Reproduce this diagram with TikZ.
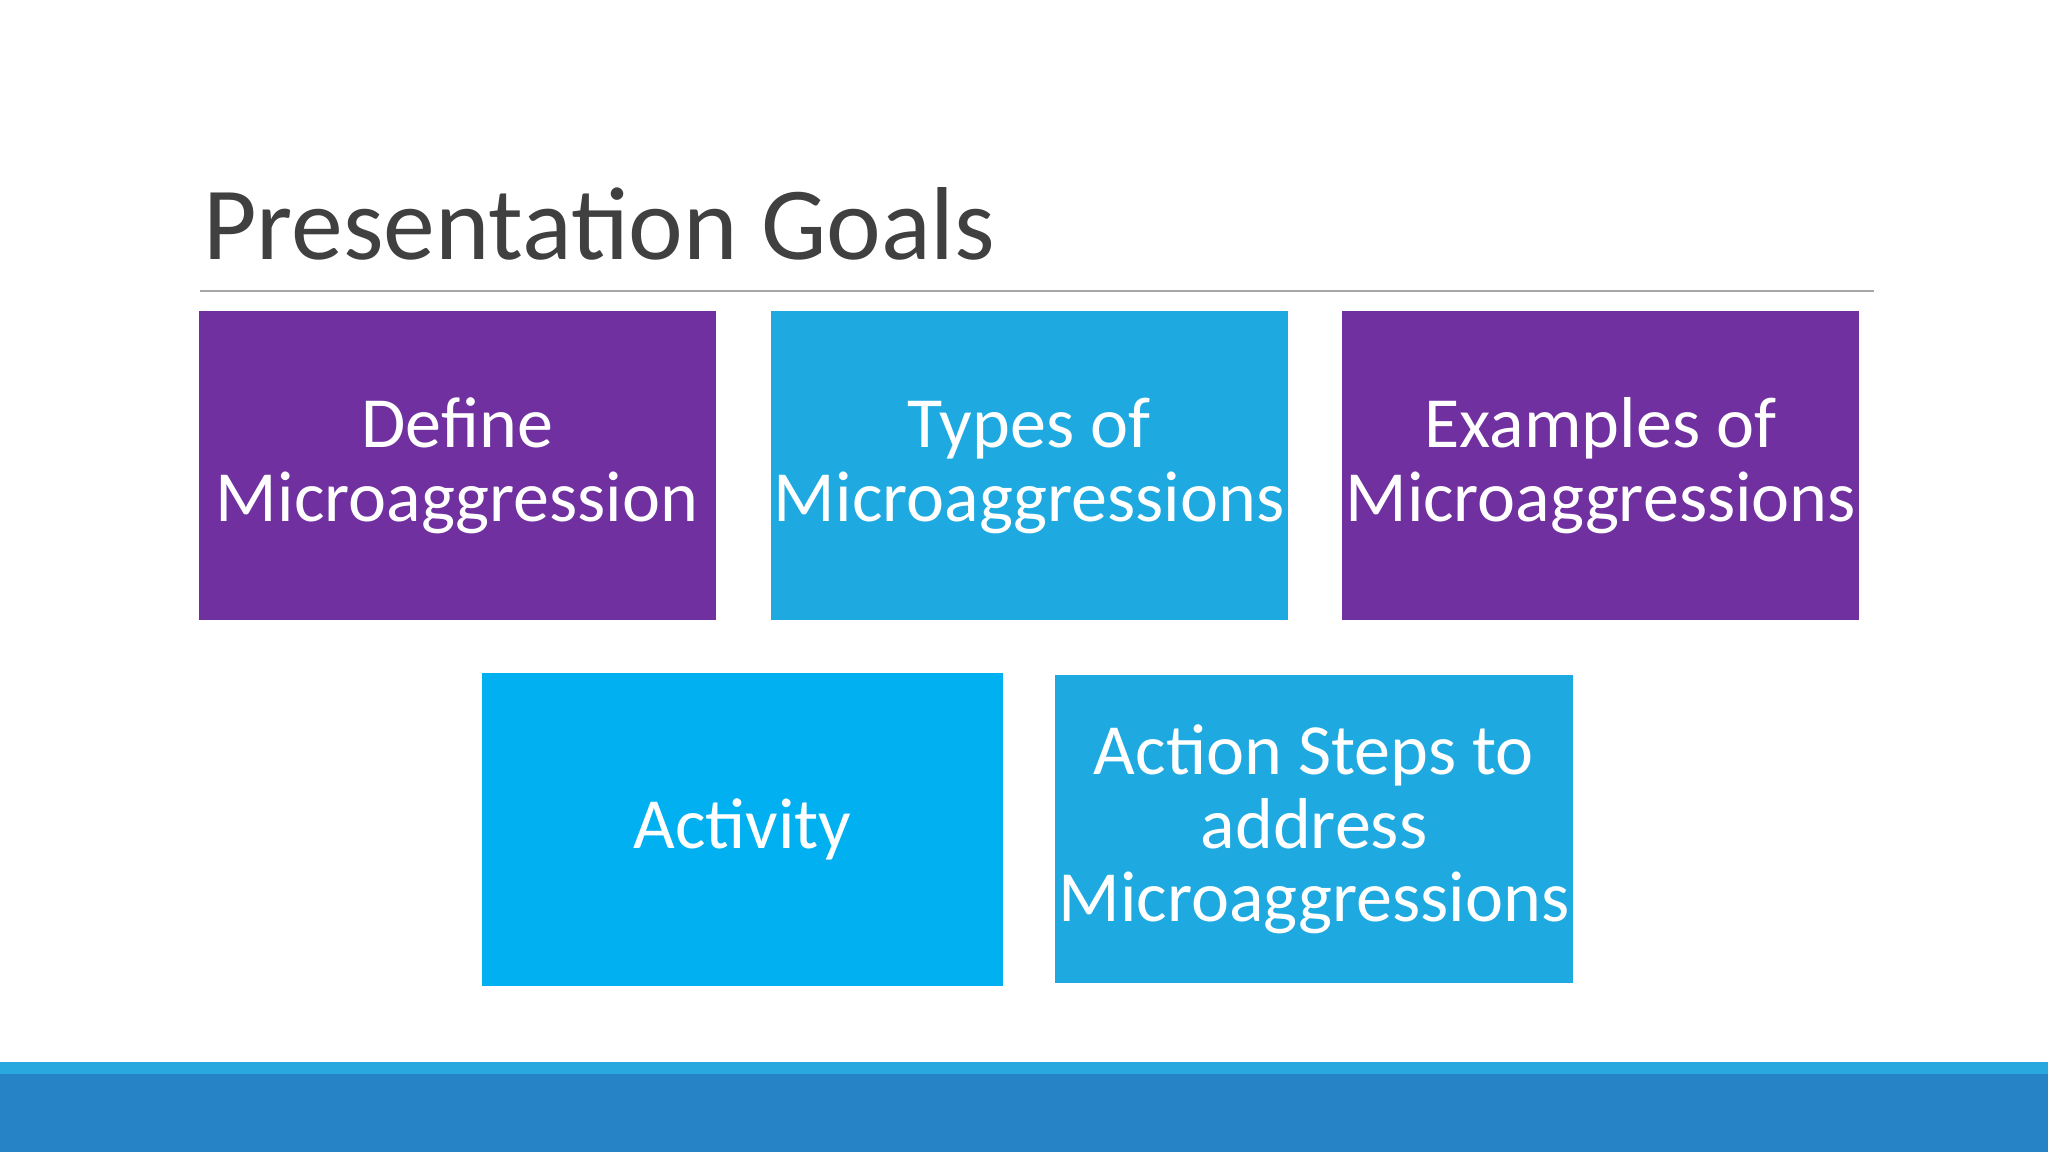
\documentclass[tikz,border=0pt]{standalone}
\usepackage{fontspec}
\setmainfont{Carlito}
\definecolor{goalpurple}{HTML}{7030A0}
\definecolor{goalcyan}{HTML}{1EAAE1}
\definecolor{goalsky}{HTML}{00B0F0}
\definecolor{bandlight}{HTML}{29A8E0}
\definecolor{banddark}{HTML}{2683C6}
\definecolor{titlegray}{HTML}{404040}
\tikzset{
  goalbox/.style={inner sep=0pt, align=center, text=white,
    font=\fontsize{20.5pt}{21pt}\selectfont},
}
\begin{document}
\begin{tikzpicture}[x=0.013061cm,y=-0.013061cm]
  % Background and bottom band
  \fill[white] (0,0) rectangle (1568,882);
  \useasboundingbox (0,0) rectangle (1568,882);
  \fill[bandlight] (0,813) rectangle (1568,822);
  \fill[banddark] (0,822) rectangle (1568,882);
  % Title
  \node (title) [anchor=base west, inner sep=0pt, text=titlegray,
    font=\fontsize{29.5pt}{30pt}\selectfont] at (155,199) {Presentation Goals};
  \coordinate (ruleL) at (153,223);
  \coordinate (ruleR) at (1435,223);
  \draw[gray!70, line width=0.6pt] (ruleL) -- (ruleR);
  % Goal boxes
  \node (define) [goalbox, fill=goalpurple, minimum width=5.172cm, minimum height=3.095cm]
    at (350,356.5) {Define\\Microaggression};
  \node (types) [goalbox, fill=goalcyan, minimum width=5.172cm, minimum height=3.095cm]
    at (788,356.5) {Types of\\Microaggressions};
  \node (examples) [goalbox, fill=goalpurple, minimum width=5.172cm, minimum height=3.095cm]
    at (1225.5,356.5) {Examples of\\Microaggressions};
  \node (activity) [goalbox, fill=goalsky, minimum width=5.211cm, minimum height=3.135cm]
    at (568.5,635) {Activity};
  \node (action) [goalbox, fill=goalcyan, minimum width=5.172cm, minimum height=3.082cm]
    at (1006,635) {Action Steps to\\address\\Microaggressions};
\end{tikzpicture}
\end{document}
